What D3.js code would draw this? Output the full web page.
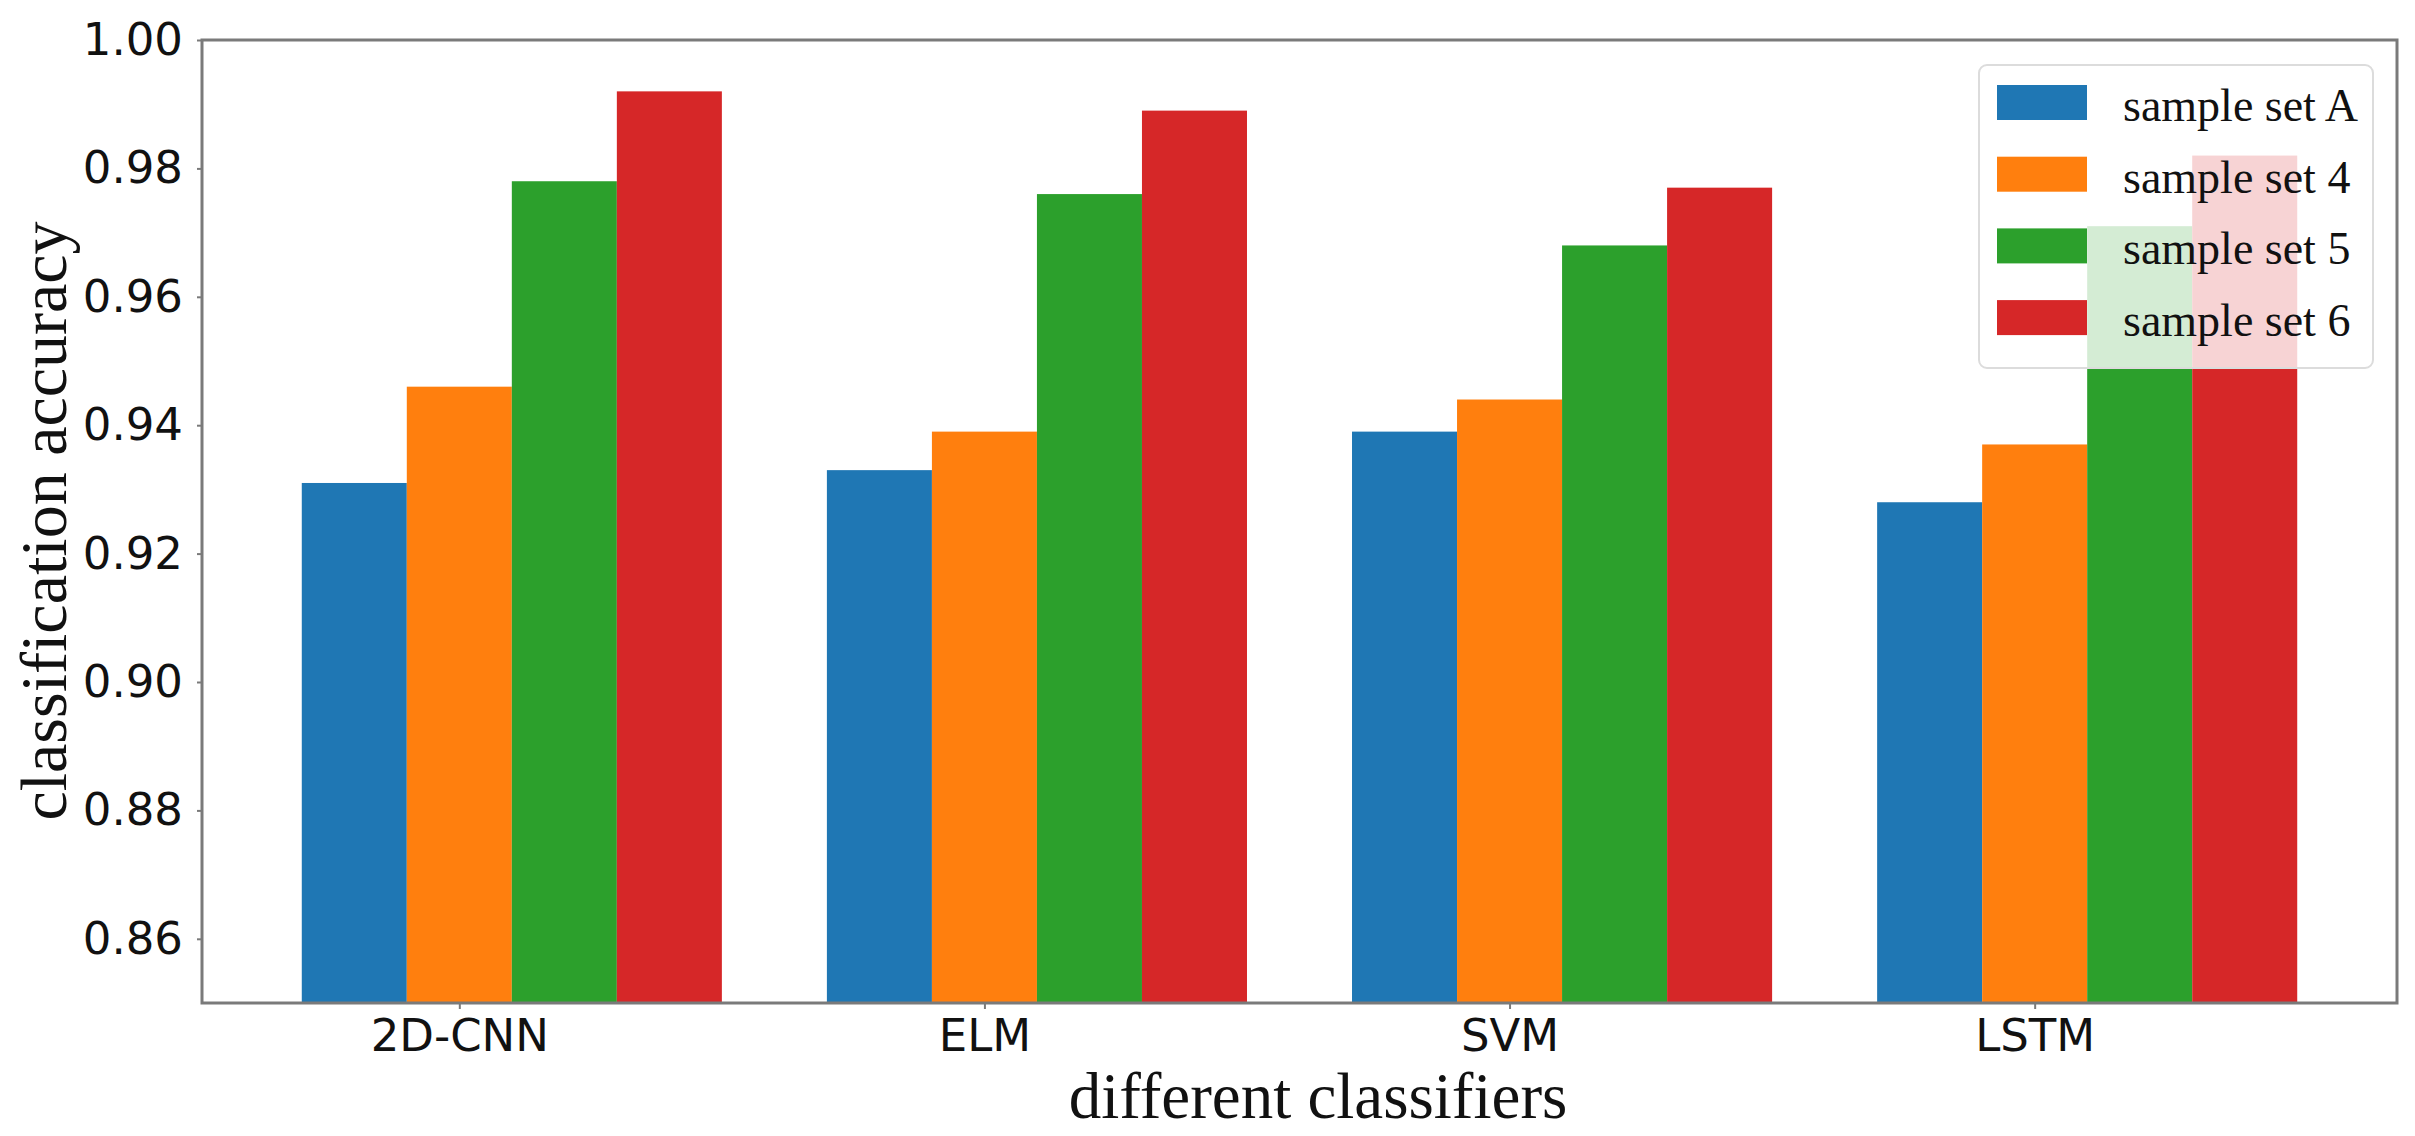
<!DOCTYPE html>
<html>
<head>
<meta charset="utf-8">
<script src="https://cdn.jsdelivr.net/npm/d3@7"></script>
<style>
  html, body { margin: 0; padding: 0; background: #fff; }
  svg { display: block; }
</style>
</head>
<body>
<svg id="chart" width="2415" height="1136"></svg>
<script>
const categories = ["2D-CNN", "ELM", "SVM", "LSTM"];
const seriesNames = ["sample set A", "sample set 4", "sample set 5", "sample set 6"];
const seriesColors = ["#1f77b4", "#ff7f0e", "#2ca02c", "#d62728"];
const setA = [0.931, 0.933, 0.939, 0.928];
const set4 = [0.946, 0.939, 0.944, 0.937];
const set5 = [0.978, 0.976, 0.968, 0.971];
const set6 = [0.992, 0.989, 0.977, 0.982];
const yTicks = [0.86, 0.88, 0.90, 0.92, 0.94, 0.96, 0.98, 1.00];
const xLabel = "different classifiers";
const yLabel = "classification accuracy";

const series = [setA, set4, set5, set6];
const barW = 0.2;
const offsets = [-0.2, 0, 0.2, 0.4];

const svg = d3.select("#chart");
const L = 202, R = 2397, T = 40, B = 1003;

const x = d3.scaleLinear().domain([-0.49, 3.69]).range([L, R]);
const y = d3.scaleLinear().domain([0.85, 1.0]).range([B, T]);

const spine = "#7a7a7a";

// bars
const gBars = svg.append("g");
series.forEach((vals, si) => {
  gBars.selectAll(null)
    .data(vals.map((v, i) => ({ v, i })))
    .enter().append("rect")
    .attr("x", d => x(d.i + offsets[si] - barW / 2))
    .attr("width", d => x(barW) - x(0))
    .attr("y", d => y(d.v))
    .attr("height", d => y(0.85) - y(d.v))
    .attr("fill", seriesColors[si]);
});

// y axis
const yAxis = svg.append("g")
  .attr("transform", `translate(${L},0)`)
  .call(d3.axisLeft(y).tickValues(yTicks).tickFormat(d3.format(".2f")).tickSize(5).tickPadding(14));
yAxis.select(".domain").remove();
yAxis.selectAll(".tick line").attr("stroke", spine).attr("stroke-width", 2);
yAxis.selectAll(".tick text")
  .attr("fill", "#111")
  .style("font-family", "'DejaVu Sans', sans-serif")
  .style("font-size", "45px");

// x axis
const xAxis = svg.append("g")
  .attr("transform", `translate(0,${B})`)
  .call(d3.axisBottom(x).tickValues(d3.range(categories.length)).tickFormat(i => categories[i]).tickSize(6).tickPadding(10));
xAxis.select(".domain").remove();
xAxis.selectAll(".tick line").attr("stroke", spine).attr("stroke-width", 2);
xAxis.selectAll(".tick text")
  .attr("fill", "#111")
  .style("font-family", "'DejaVu Sans', sans-serif")
  .style("font-size", "45px");

// frame
svg.append("rect")
  .attr("x", L).attr("y", T)
  .attr("width", R - L).attr("height", B - T)
  .attr("fill", "none")
  .attr("stroke", spine)
  .attr("stroke-width", 3);

// axis labels
svg.append("text")
  .attr("x", 1318).attr("y", 1118)
  .attr("text-anchor", "middle")
  .style("font-family", "'Liberation Serif', 'Times New Roman', serif")
  .style("font-size", "65px")
  .attr("fill", "#111")
  .text(xLabel);

svg.append("text")
  .attr("transform", `translate(66,521) rotate(-90)`)
  .attr("text-anchor", "middle")
  .style("font-family", "'Liberation Serif', 'Times New Roman', serif")
  .style("font-size", "66px")
  .attr("fill", "#111")
  .text(yLabel);

// legend
const lg = svg.append("g");
lg.append("rect")
  .attr("x", 1979).attr("y", 65)
  .attr("width", 394).attr("height", 303)
  .attr("rx", 8)
  .attr("fill", "#fff").attr("fill-opacity", 0.8)
  .attr("stroke", "#dcdcdc").attr("stroke-width", 2);
const rows = lg.selectAll(null).data(seriesNames).enter().append("g")
  .attr("transform", (d, i) => `translate(0,${85 + i * 71.7})`);
rows.append("rect")
  .attr("x", 1997).attr("y", 0)
  .attr("width", 90).attr("height", 35)
  .attr("fill", (d, i) => seriesColors[i]);
rows.append("text")
  .attr("x", 2123).attr("y", 36)
  .style("font-family", "'Liberation Serif', 'Times New Roman', serif")
  .style("font-size", "46px")
  .attr("fill", "#111")
  .text(d => d);
</script>
</body>
</html>
